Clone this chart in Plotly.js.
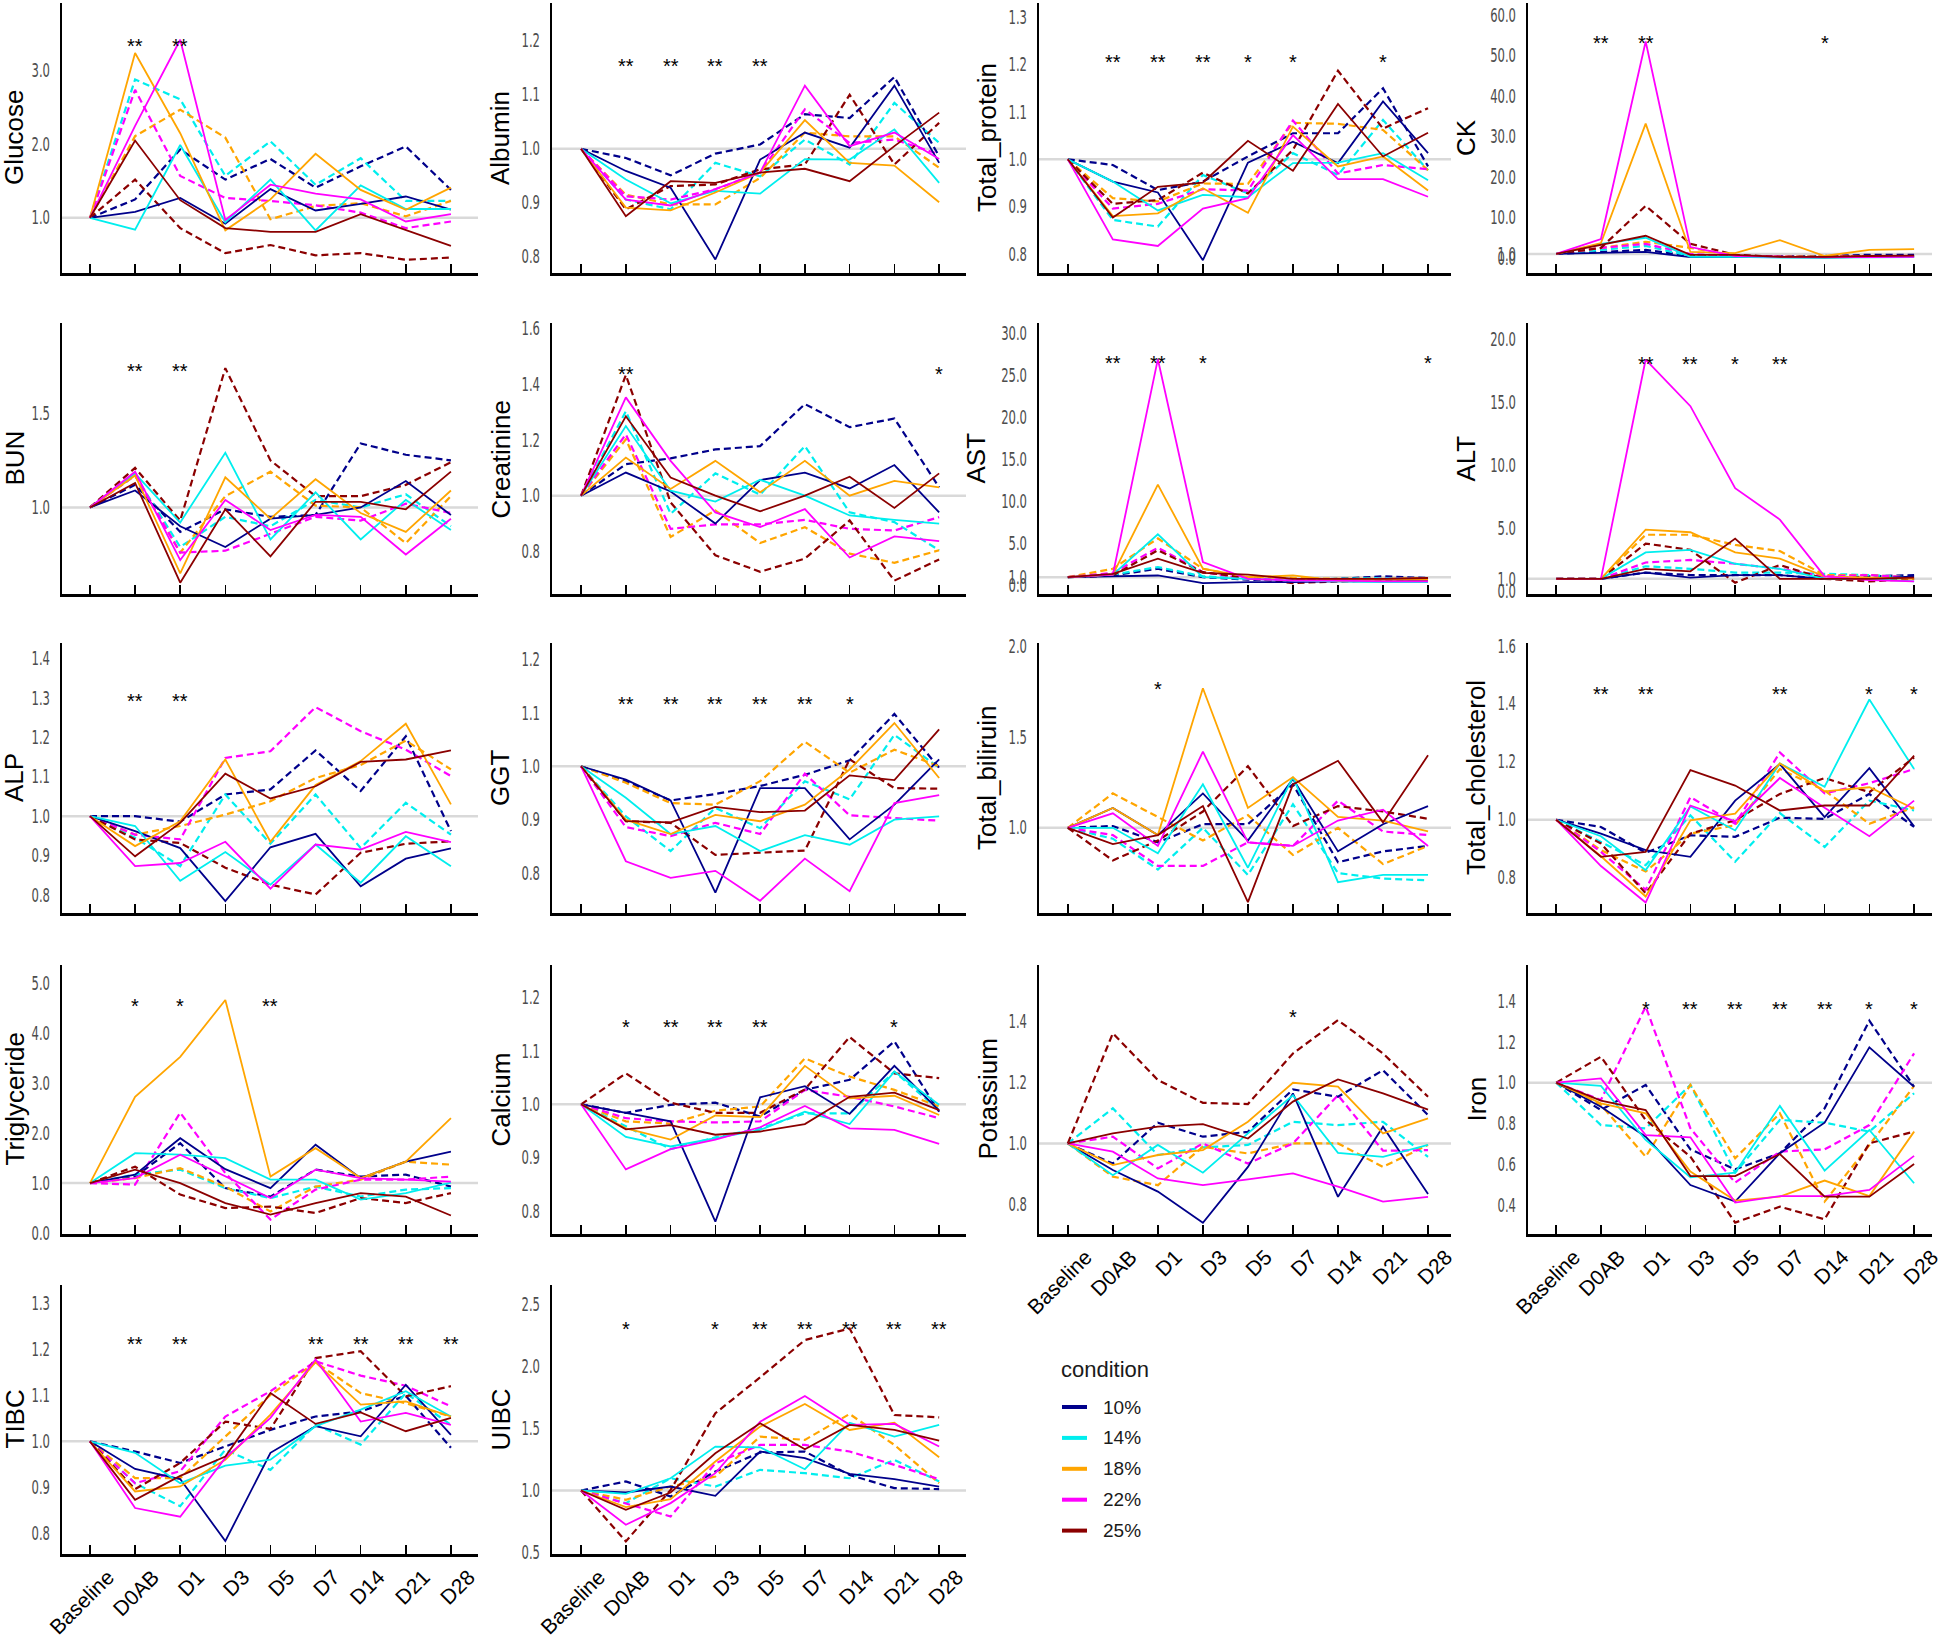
<!DOCTYPE html>
<html><head><meta charset="utf-8">
<script src="https://cdn.plot.ly/plotly-3.0.1.min.js"></script>
<style>html,body{margin:0;padding:0;background:#fff;} #chart{width:1949px;height:1642px;}</style>
</head><body><div id="chart"></div>
<script>
// ---------------- data ----------------
const days = ['Baseline','D0AB','D1','D3','D5','D7','D14','D21','D28'];
const conditions = ['10%','14%','18%','22%','25%'];

// rows: 10%, 14%, 18%, 22%, 25%
const glucoseSolid = [
 [1.0,1.08,1.27,0.92,1.39,1.10,1.19,1.29,1.11],
 [1.0,0.84,1.99,0.94,1.52,0.83,1.44,1.12,1.12],
 [1.0,3.24,2.15,0.83,1.25,1.87,1.38,1.11,1.41],
 [1.0,2.25,3.42,0.97,1.45,1.33,1.25,0.95,1.05],
 [1.0,2.05,1.24,0.86,0.81,0.81,1.05,0.84,0.62]];
const glucoseDashed = [
 [1.0,1.25,1.93,1.52,1.80,1.41,1.70,1.97,1.38],
 [1.0,2.88,2.61,1.57,2.04,1.45,1.81,1.23,1.23],
 [1.0,2.11,2.47,2.09,0.98,1.16,1.20,1.02,1.23],
 [1.0,2.74,1.57,1.27,1.23,1.17,1.07,0.86,0.95],
 [1.0,1.52,0.86,0.52,0.63,0.49,0.52,0.43,0.46]];
const glucoseStars = ['','**','**','','','','','',''];

const albuminSolid = [
 [1.0,0.959,0.928,0.795,0.98,1.03,1.002,1.117,0.974],
 [1.0,0.943,0.899,0.922,0.917,0.981,0.98,1.036,0.937],
 [1.0,0.891,0.886,0.919,0.956,1.053,0.974,0.969,0.901],
 [1.0,0.906,0.895,0.926,0.956,1.117,1.005,1.03,0.981],
 [1.0,0.875,0.94,0.937,0.956,0.963,0.94,1.005,1.067]];
const albuminDashed = [
 [1.0,0.983,0.951,0.991,1.008,1.064,1.057,1.133,0.986],
 [1.0,0.906,0.888,0.974,0.949,1.017,0.971,1.085,1.011],
 [1.0,0.915,0.897,0.897,0.946,1.03,1.023,1.023,0.965],
 [1.0,0.912,0.906,0.925,0.956,1.073,1.011,1.017,0.99],
 [1.0,0.888,0.931,0.934,0.962,0.971,1.10,0.971,1.048]];
const albuminStars = ['','**','**','**','**','','','',''];

const proteinSolid = [
 [1.0,0.953,0.93,0.787,0.993,1.037,0.992,1.122,1.013],
 [1.0,0.953,0.892,0.925,0.92,0.992,0.993,1.013,0.956],
 [1.0,0.88,0.886,0.939,0.887,1.069,0.985,1.006,0.934],
 [1.0,0.831,0.817,0.896,0.918,1.051,0.958,0.958,0.921],
 [1.0,0.877,0.942,0.951,1.039,0.976,1.117,1.006,1.056]];
const proteinDashed = [
 [1.0,0.988,0.935,0.953,1.006,1.055,1.055,1.15,0.985],
 [1.0,0.872,0.858,0.967,0.928,1.013,0.967,1.083,0.977],
 [1.0,0.918,0.911,0.949,0.948,1.077,1.075,1.062,0.977],
 [1.0,0.896,0.906,0.937,0.934,1.082,0.97,0.988,0.979],
 [1.0,0.906,0.914,0.972,0.928,1.02,1.187,1.065,1.108]];
const proteinStars = ['','**','**','**','*','*','','*',''];

const ckSolid = [
 [1,1.2,1.5,0.2,0.3,0.2,0.1,0.3,0.3],
 [1,3.5,5.0,0.3,0.3,0.1,0.1,0.1,0.2],
 [1,3.7,33.2,1.5,1.2,4.4,0.5,2.0,2.2],
 [1,4.7,53.5,2.7,0.5,0.3,0.2,0.2,0.3],
 [1,3.3,5.5,0.8,0.8,0.3,0.3,0.5,0.6]];
const ckDashed = [
 [1,1.5,2.0,0.5,0.5,0.4,0.5,0.8,0.8],
 [1,2.0,3.0,0.5,0.4,0.3,0.5,0.5,0.4],
 [1,2.5,4.0,2.5,0.5,0.4,0.4,0.5,0.5],
 [1,2.5,3.5,1.0,0.5,0.3,0.3,0.4,0.5],
 [1,2.5,12.9,3.5,0.8,0.3,0.3,0.4,0.5]];
const ckStars = ['','**','**','','','','*','',''];

const bunSolid = [
 [1.0,1.09,0.90,0.79,0.94,0.96,1.0,1.14,0.96],
 [1.0,1.18,0.92,1.29,0.83,1.08,0.83,1.04,0.88],
 [1.0,1.17,0.65,1.16,0.94,1.15,0.97,0.87,1.09],
 [1.0,1.19,0.72,1.04,0.88,0.96,0.95,0.75,0.94],
 [1.0,1.13,0.60,0.99,0.74,1.03,1.03,0.99,1.19]];
const bunDashed = [
 [1.0,1.12,0.87,0.99,0.95,0.96,1.34,1.28,1.25],
 [1.0,1.17,0.79,0.95,0.90,1.04,1.0,1.07,0.90],
 [1.0,1.17,0.76,1.06,1.19,1.01,1.0,0.81,1.06],
 [1.0,1.17,0.76,0.77,0.86,0.95,0.93,1.02,0.97],
 [1.0,1.21,0.93,1.74,1.25,1.06,1.06,1.12,1.24]];
const bunStars = ['','**','**','','','','','',''];

const creatinineSolid = [
 [1.0,1.083,1.015,0.90,1.056,1.083,1.026,1.11,0.94],
 [1.0,1.25,1.018,0.979,1.057,1.0,0.929,0.913,0.90],
 [1.0,1.137,1.024,1.125,1.012,1.125,1.0,1.053,1.03],
 [1.0,1.353,1.125,0.94,0.887,0.952,0.778,0.854,0.837],
 [1.0,1.285,1.065,1.0,0.944,1.0,1.068,0.956,1.08]];
const creatinineDashed = [
 [1.0,1.113,1.134,1.166,1.178,1.329,1.246,1.277,1.03],
 [1.0,1.303,0.935,1.08,1.004,1.178,0.94,0.905,0.804],
 [1.0,1.202,0.852,0.947,0.83,0.887,0.792,0.759,0.804],
 [1.0,1.22,0.881,0.897,0.897,0.913,0.881,0.875,0.923],
 [1.0,1.433,0.976,0.786,0.727,0.774,0.911,0.695,0.771]];
const creatinineStars = ['','**','','','','','','','*'];

const astSolid = [
 [1,1.1,1.2,0.3,0.4,0.4,0.5,0.5,0.6],
 [1,1.3,6.1,1.0,0.8,0.6,0.5,0.4,0.4],
 [1,1.3,12.0,2.0,1.0,1.2,0.6,0.7,0.7],
 [1,1.3,26.9,2.8,0.8,0.6,0.6,0.5,0.5],
 [1,1.4,3.2,1.5,1.3,0.8,0.8,0.8,0.9]];
const astDashed = [
 [1,1.2,2.0,1.0,0.7,0.6,0.8,1.1,0.9],
 [1,1.3,2.2,1.1,0.8,0.7,0.8,0.9,0.8],
 [1,2.0,5.6,2.0,1.0,0.9,0.8,0.8,0.9],
 [1,1.5,4.5,1.6,0.8,0.7,0.7,0.8,0.8],
 [1,1.2,4.2,1.6,0.9,0.3,0.5,0.6,0.7]];
const astStars = ['','**','**','*','','','','','*'];

const altSolid = [
 [1,1.0,1.5,1.1,1.3,1.3,1.0,1.0,1.2],
 [1,1.0,3.1,3.3,2.2,1.8,1.0,1.0,0.8],
 [1,1.0,4.9,4.7,3.1,2.6,1.2,1.1,1.0],
 [1,1.0,18.4,14.7,8.2,5.7,1.2,0.9,0.8],
 [1,1.0,1.8,1.6,4.2,1.0,1.0,1.0,1.1]];
const altDashed = [
 [1,1.0,1.5,1.3,1.3,1.3,1.0,1.2,1.3],
 [1,1.0,2.0,1.8,1.5,1.5,1.4,1.3,1.1],
 [1,1.0,4.5,4.5,3.7,3.2,1.3,1.3,1.1],
 [1,1.0,2.3,2.5,2.2,1.8,1.2,1.3,1.1],
 [1,1.0,3.8,3.3,0.7,2.1,1.0,0.8,1.0]];
const altStars = ['','','**','**','*','**','','',''];

const alpSolid = [
 [1.0,0.962,0.919,0.784,0.921,0.955,0.822,0.892,0.918],
 [1.0,0.975,0.836,0.909,0.826,0.928,0.831,0.949,0.873],
 [1.0,0.924,0.987,1.144,0.935,1.079,1.14,1.235,1.03],
 [1.0,0.873,0.881,0.935,0.816,0.928,0.915,0.96,0.934],
 [1.0,0.898,0.983,1.108,1.045,1.076,1.138,1.144,1.167]];
const alpDashed = [
 [1.0,1.0,0.986,1.055,1.068,1.167,1.064,1.203,0.962],
 [1.0,0.945,0.873,1.055,0.93,1.055,0.919,1.034,0.953],
 [1.0,0.953,0.975,1.004,1.038,1.097,1.13,1.192,1.119],
 [1.0,0.953,0.941,1.148,1.165,1.277,1.216,1.169,1.102],
 [1.0,0.941,0.932,0.869,0.826,0.801,0.907,0.93,0.936]];
const alpStars = ['','**','**','','','','','',''];

const ggtSolid = [
 [1.0,0.975,0.936,0.763,0.959,0.959,0.863,0.928,1.013],
 [1.0,0.941,0.873,0.888,0.841,0.871,0.853,0.9,0.906],
 [1.0,0.9,0.873,0.909,0.897,0.928,0.994,1.081,0.978],
 [1.0,0.822,0.791,0.804,0.748,0.827,0.766,0.931,0.946],
 [1.0,0.897,0.895,0.924,0.914,0.917,0.983,0.974,1.069]];
const ggtDashed = [
 [1.0,0.972,0.936,0.948,0.963,0.984,1.011,1.098,0.997],
 [1.0,0.906,0.841,0.922,0.884,0.972,0.938,1.059,0.997],
 [1.0,0.969,0.931,0.928,0.972,1.046,0.988,1.031,1.0],
 [1.0,0.886,0.869,0.894,0.873,0.986,0.908,0.903,0.898],
 [1.0,0.897,0.894,0.834,0.838,0.842,1.013,0.959,0.958]];
const ggtStars = ['','**','**','**','**','**','*','',''];

const bilirubinSolid = [
 [1.0,1.11,0.96,1.19,0.93,1.27,0.87,1.02,1.12],
 [1.0,1.0,0.86,1.24,0.78,1.28,0.70,0.74,0.74],
 [1.0,1.11,0.96,1.77,1.11,1.28,1.06,1.04,0.98],
 [1.0,1.08,0.90,1.42,0.92,0.90,1.04,1.10,0.90],
 [1.0,0.91,0.96,1.12,0.59,1.24,1.37,1.03,1.40]];
const bilirubinDashed = [
 [1.0,1.01,0.92,1.02,1.02,1.24,0.81,0.87,0.90],
 [1.0,0.94,0.77,1.0,0.74,1.13,0.75,0.72,0.71],
 [1.0,1.19,1.06,0.93,1.07,0.85,1.0,0.80,0.90],
 [1.0,0.96,0.79,0.79,0.92,0.90,1.15,0.98,0.96],
 [1.0,0.82,0.93,1.09,1.34,1.01,1.12,1.09,1.05]];
const bilirubinStars = ['','','*','','','','','',''];

const cholesterolSolid = [
 [1.0,0.952,0.895,0.872,1.066,1.192,1.009,1.178,0.977],
 [1.0,0.943,0.826,1.046,0.963,1.194,1.114,1.415,1.175],
 [1.0,0.874,0.735,0.998,1.021,1.194,1.098,1.112,1.038],
 [1.0,0.84,0.714,1.049,0.994,1.144,1.041,0.943,1.066],
 [1.0,0.872,0.889,1.171,1.118,1.032,1.049,1.049,1.221]];
const cholesterolDashed = [
 [1.0,0.975,0.886,0.946,0.941,1.007,1.003,1.089,0.975],
 [1.0,0.923,0.843,1.015,0.855,1.023,0.906,1.066,1.032],
 [1.0,0.895,0.821,0.952,0.981,1.175,1.101,0.986,1.043],
 [1.0,0.889,0.758,1.078,0.986,1.232,1.091,1.126,1.175],
 [1.0,0.918,0.746,0.952,0.998,1.089,1.144,1.095,1.215]];
const cholesterolStars = ['','**','**','','','**','','*','*'];

const triglycerideSolid = [
 [1.0,1.17,1.9,1.28,0.9,1.77,1.1,1.43,1.63],
 [1.0,1.6,1.57,1.5,1.07,1.07,0.67,0.8,1.01],
 [1.0,2.73,3.53,4.67,1.13,1.7,1.1,1.43,2.3],
 [1.0,1.1,1.57,1.13,0.7,1.27,1.1,1.07,1.03],
 [1.0,1.27,1.0,0.6,0.37,0.6,0.8,0.73,0.35]];
const triglycerideDashed = [
 [1.0,1.13,1.8,0.9,0.73,1.27,1.13,1.17,0.93],
 [1.0,1.17,1.27,0.9,0.7,0.93,0.73,0.87,0.9],
 [1.0,1.1,1.3,0.93,0.43,0.93,1.07,1.43,1.37],
 [1.0,0.97,2.41,1.2,0.27,0.87,1.07,1.07,1.13],
 [1.0,1.33,0.77,0.5,0.53,0.4,0.7,0.6,0.8]];
const triglycerideStars = ['','*','*','','**','','','',''];

const calciumSolid = [
 [1.0,0.984,0.968,0.78,1.013,1.034,0.982,1.072,0.988],
 [1.0,0.939,0.921,0.936,0.952,0.986,0.963,1.061,0.999],
 [1.0,0.955,0.934,0.979,0.976,1.072,1.011,1.016,0.98],
 [1.0,0.878,0.916,0.934,0.957,0.997,0.955,0.952,0.926],
 [1.0,0.953,0.961,0.943,0.949,0.963,1.014,1.022,0.989]];
const calciumDashed = [
 [1.0,0.984,0.999,1.003,0.977,1.027,1.046,1.118,0.986],
 [1.0,0.959,0.916,0.938,0.955,0.983,0.983,1.061,0.989],
 [1.0,0.968,0.964,0.988,0.996,1.086,1.052,1.027,0.996],
 [1.0,0.974,0.968,0.966,0.968,1.027,1.014,0.996,0.974],
 [1.0,1.058,1.003,0.984,0.984,1.028,1.126,1.058,1.049]];
const calciumStars = ['','*','**','**','**','','','*',''];

const potassiumSolid = [
 [1.0,0.913,0.842,0.74,0.923,1.164,0.825,1.055,0.834],
 [1.0,0.896,0.995,0.904,1.033,1.158,0.969,0.956,0.995],
 [1.0,0.929,0.962,0.978,1.071,1.199,1.186,1.033,1.082],
 [1.0,0.973,0.885,0.863,0.882,0.902,0.858,0.809,0.825],
 [1.0,1.033,1.055,1.063,1.016,1.137,1.21,1.164,1.111]];
const potassiumDashed = [
 [1.0,0.934,1.068,1.022,1.038,1.177,1.153,1.24,1.093],
 [1.0,1.115,0.962,0.987,0.995,1.071,1.06,1.071,0.956],
 [1.0,0.891,0.863,0.989,0.967,1.0,1.0,0.923,0.995],
 [1.0,1.022,0.918,1.0,0.934,1.0,1.158,0.976,0.978],
 [1.0,1.361,1.208,1.133,1.129,1.295,1.404,1.295,1.153]];
const potassiumStars = ['','','','','','*','','',''];

const ironSolid = [
 [1.0,0.882,0.735,0.498,0.417,0.654,0.804,1.173,0.98],
 [1.0,0.984,0.719,0.536,0.559,0.886,0.569,0.768,0.507],
 [1.0,0.899,0.85,0.564,0.422,0.441,0.52,0.444,0.76],
 [1.0,1.021,0.743,0.732,0.412,0.444,0.444,0.474,0.641],
 [1.0,0.912,0.866,0.542,0.542,0.65,0.441,0.441,0.601]];
const ironDashed = [
 [1.0,0.866,0.989,0.673,0.575,0.654,0.874,1.304,0.98],
 [1.0,0.792,0.776,0.989,0.559,0.817,0.804,0.76,0.948],
 [1.0,0.891,0.637,0.989,0.629,0.85,0.417,0.694,0.984],
 [1.0,0.915,1.373,0.776,0.51,0.662,0.673,0.792,1.144],
 [1.0,1.127,0.817,0.637,0.314,0.392,0.33,0.703,0.76]];
const ironStars = ['','','*','**','**','**','**','*','*'];

const tibcSolid = [
 [1.0,0.94,0.918,0.783,0.975,1.033,1.011,1.123,1.014],
 [1.0,0.975,0.909,0.947,0.96,1.033,1.069,1.109,1.054],
 [1.0,0.891,0.902,0.96,1.058,1.172,1.08,1.087,1.054],
 [1.0,0.855,0.836,0.964,1.051,1.178,1.043,1.062,1.036],
 [1.0,0.873,0.925,0.967,1.105,1.038,1.063,1.022,1.051]];
const tibcDashed = [
 [1.0,0.978,0.953,0.989,1.025,1.054,1.065,1.099,0.986],
 [1.0,0.909,0.859,0.982,0.938,1.036,0.993,1.105,1.036],
 [1.0,0.92,0.92,1.011,1.101,1.172,1.105,1.083,1.054],
 [1.0,0.909,0.935,1.054,1.109,1.174,1.143,1.121,1.076],
 [1.0,0.896,0.953,1.043,1.027,1.181,1.196,1.098,1.12]];
const tibcStars = ['','**','**','','','**','**','**','**'];

const uibcSolid = [
 [1.0,0.984,1.032,0.957,1.315,1.261,1.134,1.091,1.032],
 [1.0,0.973,1.099,1.355,1.349,1.172,1.548,1.435,1.53],
 [1.0,0.866,0.93,1.234,1.516,1.699,1.489,1.548,1.269],
 [1.0,0.723,0.898,1.14,1.556,1.763,1.53,1.538,1.355],
 [1.0,0.844,0.984,1.301,1.543,1.333,1.53,1.489,1.403]];
const uibcDashed = [
 [1.0,1.073,0.952,1.153,1.306,1.315,1.126,1.019,1.011],
 [1.0,0.898,1.099,1.032,1.167,1.14,1.099,1.247,1.073],
 [1.0,0.925,1.032,1.113,1.435,1.409,1.618,1.368,1.059],
 [1.0,0.898,0.79,1.22,1.368,1.368,1.315,1.207,1.091],
 [1.0,0.589,1.005,1.624,1.914,2.215,2.309,1.61,1.591]];
const uibcStars = ['','*','','*','**','**','**','**','**'];

// ---------------- panels (built from the arrays above) ----------------
const panels = [
 {name:'Glucose', solid:glucoseSolid, dashed:glucoseDashed, stars:glucoseStars},
 {name:'Albumin', solid:albuminSolid, dashed:albuminDashed, stars:albuminStars},
 {name:'Total_protein', solid:proteinSolid, dashed:proteinDashed, stars:proteinStars},
 {name:'CK', solid:ckSolid, dashed:ckDashed, stars:ckStars},
 {name:'BUN', solid:bunSolid, dashed:bunDashed, stars:bunStars},
 {name:'Creatinine', solid:creatinineSolid, dashed:creatinineDashed, stars:creatinineStars},
 {name:'AST', solid:astSolid, dashed:astDashed, stars:astStars},
 {name:'ALT', solid:altSolid, dashed:altDashed, stars:altStars},
 {name:'ALP', solid:alpSolid, dashed:alpDashed, stars:alpStars},
 {name:'GGT', solid:ggtSolid, dashed:ggtDashed, stars:ggtStars},
 {name:'Total_biliruin', solid:bilirubinSolid, dashed:bilirubinDashed, stars:bilirubinStars},
 {name:'Total_cholesterol', solid:cholesterolSolid, dashed:cholesterolDashed, stars:cholesterolStars},
 {name:'Triglyceride', solid:triglycerideSolid, dashed:triglycerideDashed, stars:triglycerideStars},
 {name:'Calcium', solid:calciumSolid, dashed:calciumDashed, stars:calciumStars},
 {name:'Potassium', solid:potassiumSolid, dashed:potassiumDashed, stars:potassiumStars},
 {name:'Iron', solid:ironSolid, dashed:ironDashed, stars:ironStars},
 {name:'TIBC', solid:tibcSolid, dashed:tibcDashed, stars:tibcStars},
 {name:'UIBC', solid:uibcSolid, dashed:uibcDashed, stars:uibcStars}
];

// ---------------- style / layout ----------------
const colors = ['#00008B','#00EEEE','#FFA500','#FF00FF','#8B0000'];
const W = 1949, H = 1642;
const colLeft = [62, 552, 1039, 1528];
const colRight = [478, 966, 1451, 1932];
const colXRange = [[-0.62, 8.6], [-0.65, 8.6], [-0.64, 8.51], [-0.63, 8.4]];
const colTitleOff = [48, 52, 52, 52];
const rowTop = [3, 323, 643, 965, 1285];
const rowBottom = [273, 594, 913, 1234, 1554];

const panelStyle = [
 {row:0,col:0,range:[0.25,3.92],dtick:1,star:0.855},
 {row:0,col:1,range:[0.77,1.27],dtick:0.1,star:0.78},
 {row:0,col:2,range:[0.76,1.33],dtick:0.1,star:0.796},
 {row:0,col:3,range:[-3.7,63],tickvals:[0,1,10,20,30,40,50,60],star:0.867,titleOff:62},
 {row:1,col:0,range:[0.54,1.98],dtick:0.5,star:0.838},
 {row:1,col:1,range:[0.647,1.62],dtick:0.2,star:0.827},
 {row:1,col:2,range:[-1.0,31.2],tickvals:[0,1,5,10,15,20,25,30],star:0.867,titleOff:64},
 {row:1,col:3,range:[-0.2,21.3],tickvals:[0,1,5,10,15,20],star:0.863,titleOff:63},
 {row:2,col:0,range:[0.754,1.44],dtick:0.1,star:0.80},
 {row:2,col:1,range:[0.725,1.231],dtick:0.1,star:0.789},
 {row:2,col:2,range:[0.53,2.02],dtick:0.5,star:0.844},
 {row:2,col:3,range:[0.678,1.61],dtick:0.2,star:0.826},
 {row:3,col:0,range:[-0.02,5.37],dtick:1,star:0.862},
 {row:3,col:1,range:[0.757,1.261],dtick:0.1,star:0.784},
 {row:3,col:2,range:[0.703,1.585],dtick:0.2,star:0.82,xlabels:true},
 {row:3,col:3,range:[0.258,1.577],dtick:0.2,star:0.851,xlabels:true},
 {row:4,col:0,range:[0.755,1.34],dtick:0.1,star:0.796,xlabels:true},
 {row:4,col:1,range:[0.487,2.66],dtick:0.5,star:0.851,xlabels:true}
];

const narrow = "'Liberation Sans Narrow','Arial Narrow','DejaVu Sans Condensed',sans-serif";
const sans = "'Liberation Sans',Arial,Helvetica,sans-serif";
const yLabelSqueeze = 0.68;   // condensed look of the y tick labels

const traces = [];
const layout = {
  width: W, height: H,
  margin: {l:0, r:0, t:0, b:0},
  paper_bgcolor: '#ffffff', plot_bgcolor: '#ffffff',
  showlegend: false,
  shapes: [], annotations: []
};

panels.forEach((p, i) => {
  const s = panelStyle[i];
  const n = i + 1;
  const xa = n === 1 ? 'x' : 'x' + n;
  const ya = n === 1 ? 'y' : 'y' + n;
  const xKey = n === 1 ? 'xaxis' : 'xaxis' + n;
  const yKey = n === 1 ? 'yaxis' : 'yaxis' + n;

  for (let c = 0; c < conditions.length; c++) {
    traces.push({type:'scatter', mode:'lines', x: days, y: p.dashed[c], xaxis: xa, yaxis: ya,
      name: conditions[c], line:{color: colors[c], width: 2.2, dash:'7px,4px'}, hoverinfo:'skip'});
  }
  for (let c = 0; c < conditions.length; c++) {
    traces.push({type:'scatter', mode:'lines', x: days, y: p.solid[c], xaxis: xa, yaxis: ya,
      name: conditions[c], line:{color: colors[c], width: 1.8}, hoverinfo:'skip'});
  }

  layout[xKey] = {
    domain: [colLeft[s.col] / W, colRight[s.col] / W],
    anchor: ya, type: 'category', range: colXRange[s.col],
    showline: true, linecolor: '#000', linewidth: 2.6, mirror: false,
    ticks: 'inside', ticklen: 9, tickwidth: 1.6, tickcolor: '#000',
    showgrid: false, zeroline: false,
    showticklabels: !!s.xlabels, tickangle: -45, ticklabelshift: 18,
    tickfont: {family: sans, size: 21, color: '#000'},
    fixedrange: true
  };
  const yax = {
    domain: [1 - rowBottom[s.row] / H, 1 - rowTop[s.row] / H],
    anchor: xa, range: s.range,
    showline: true, linecolor: '#000', linewidth: 2.2,
    ticks: '', showgrid: false, zeroline: false,
    tickformat: '.1f',
    tickfont: {family: narrow, size: 19, color: '#4D4D4D'},
    ticklabelstandoff: 6,
    fixedrange: true
  };
  if (s.tickvals) { yax.tickmode = 'array'; yax.tickvals = s.tickvals; }
  else { yax.tickmode = 'linear'; yax.tick0 = 0; yax.dtick = s.dtick; }
  layout[yKey] = yax;

  // y-axis title (rotated text beside the axis)
  layout.annotations.push({xref:'paper', x: (colLeft[s.col] - (s.titleOff || colTitleOff[s.col])) / W,
    yref: ya + ' domain', y: 0.5, xanchor:'center', yanchor:'middle', textangle: -90,
    text: p.name, showarrow:false, font:{family: sans, size: 26, color:'#000'}});

  // light grey reference line at 1.0
  layout.shapes.push({type:'line', layer:'below', xref: xa + ' domain', x0: 0, x1: 1,
    yref: ya, y0: 1, y1: 1, line: {color: '#D9D9D9', width: 2.5}});

  // significance stars
  p.stars.forEach((lab, k) => {
    if (!lab) return;
    layout.annotations.push({xref: xa, x: days[k], yref: ya + ' domain', y: s.star,
      text: lab, showarrow: false, font: {family: sans, size: 20, color: '#000'},
      xanchor: 'center', yanchor: 'middle', yshift: -4});
  });
});

// legend (manual, in paper coordinates)
const legX = 1059, legTitleY = 1369, legY0 = 1407, legStep = 30.9;
layout.annotations.push({xref:'paper', yref:'paper', x: legX / W, y: 1 - legTitleY / H,
  xanchor:'left', yanchor:'middle', text:'condition', showarrow:false,
  font:{family: sans, size: 22, color:'#1a1a1a'}});
conditions.forEach((c, k) => {
  const yy = 1 - (legY0 + k * legStep) / H;
  layout.shapes.push({type:'line', xref:'paper', yref:'paper', x0: 1062 / W, x1: 1087 / W,
    y0: yy, y1: yy, line:{color: colors[k], width: 4}});
  layout.annotations.push({xref:'paper', yref:'paper', x: 1101 / W, y: yy,
    xanchor:'left', yanchor:'middle', text: c, showarrow:false,
    font:{family: sans, size: 19, color:'#1a1a1a'}});
});

Plotly.newPlot('chart', traces, layout, {displayModeBar: false, staticPlot: true}).then(gd => {
  // squeeze every y tick label horizontally (the reference uses a narrow face)
  gd.querySelectorAll('.yaxislayer-above text').forEach(t => {
    const w = t.getComputedTextLength();
    if (w > 0) {
      t.setAttribute('textLength', (w * yLabelSqueeze).toFixed(2));
      t.setAttribute('lengthAdjust', 'spacingAndGlyphs');
    }
  });
});
</script>
</body></html>
